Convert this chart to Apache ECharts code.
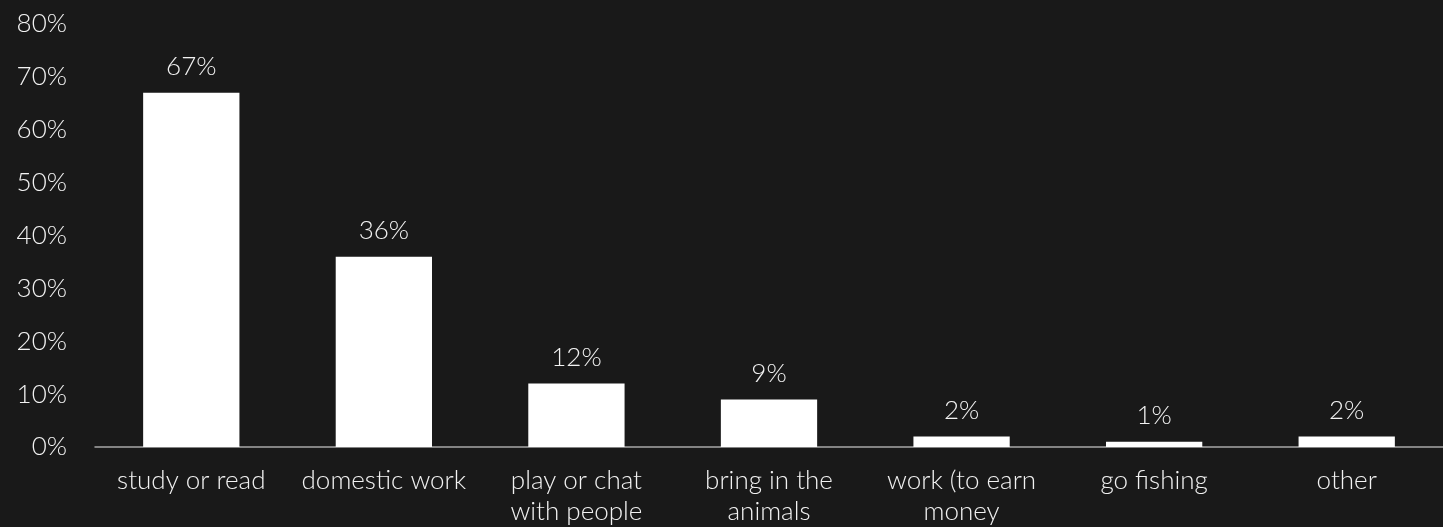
<!DOCTYPE html>
<html>
<head>
<meta charset="utf-8">
<script src="https://cdn.jsdelivr.net/npm/echarts@6/dist/echarts.min.js"></script>
<style>
  html, body { margin: 0; padding: 0; background: #191919; }
  #chart { width: 1443px; height: 527px; }
</style>
</head>
<body>
<div id="chart"></div>
<script>
// Activities, share of respondents (%)
const categories = [
  'study or read',
  'domestic work',
  'play or chat\nwith people',
  'bring in the\nanimals',
  'work (to earn\nmoney',
  'go fishing',
  'other'
];
const shares = [67, 36, 12, 9, 2, 1, 2];
const yTicks = { min: 0, max: 80, interval: 10 };

const FONT = 'Lato, "Noto Sans", sans-serif';
const WEIGHT = 300;
const TEXT = '#f2f2f2';

const chart = echarts.init(document.getElementById('chart'), null, { renderer: 'canvas' });
chart.setOption({
  backgroundColor: '#191919',
  animation: false,
  grid: { left: 95, right: 0, top: 24, bottom: 79, containLabel: false },
  xAxis: {
    type: 'category',
    data: categories,
    axisLine: { lineStyle: { color: '#a6a6a6', width: 1.5 } },
    axisTick: { show: false },
    axisLabel: {
      color: TEXT,
      fontFamily: FONT,
      fontWeight: WEIGHT,
      fontSize: 26,
      lineHeight: 31,
      margin: 18,
      interval: 0
    }
  },
  yAxis: {
    type: 'value',
    min: yTicks.min,
    max: yTicks.max,
    interval: yTicks.interval,
    splitLine: { show: false },
    axisLine: { show: false },
    axisTick: { show: false },
    axisLabel: {
      color: TEXT,
      fontFamily: FONT,
      fontWeight: WEIGHT,
      fontSize: 26,
      margin: 28,
      formatter: v => v + '%'
    }
  },
  series: [{
    type: 'bar',
    data: shares,
    barWidth: '50%',
    itemStyle: { color: '#ffffff' },
    label: {
      show: true,
      position: 'top',
      distance: 13,
      color: TEXT,
      fontFamily: FONT,
      fontWeight: WEIGHT,
      fontSize: 26,
      formatter: p => p.value + '%'
    }
  }]
});
</script>
</body>
</html>
